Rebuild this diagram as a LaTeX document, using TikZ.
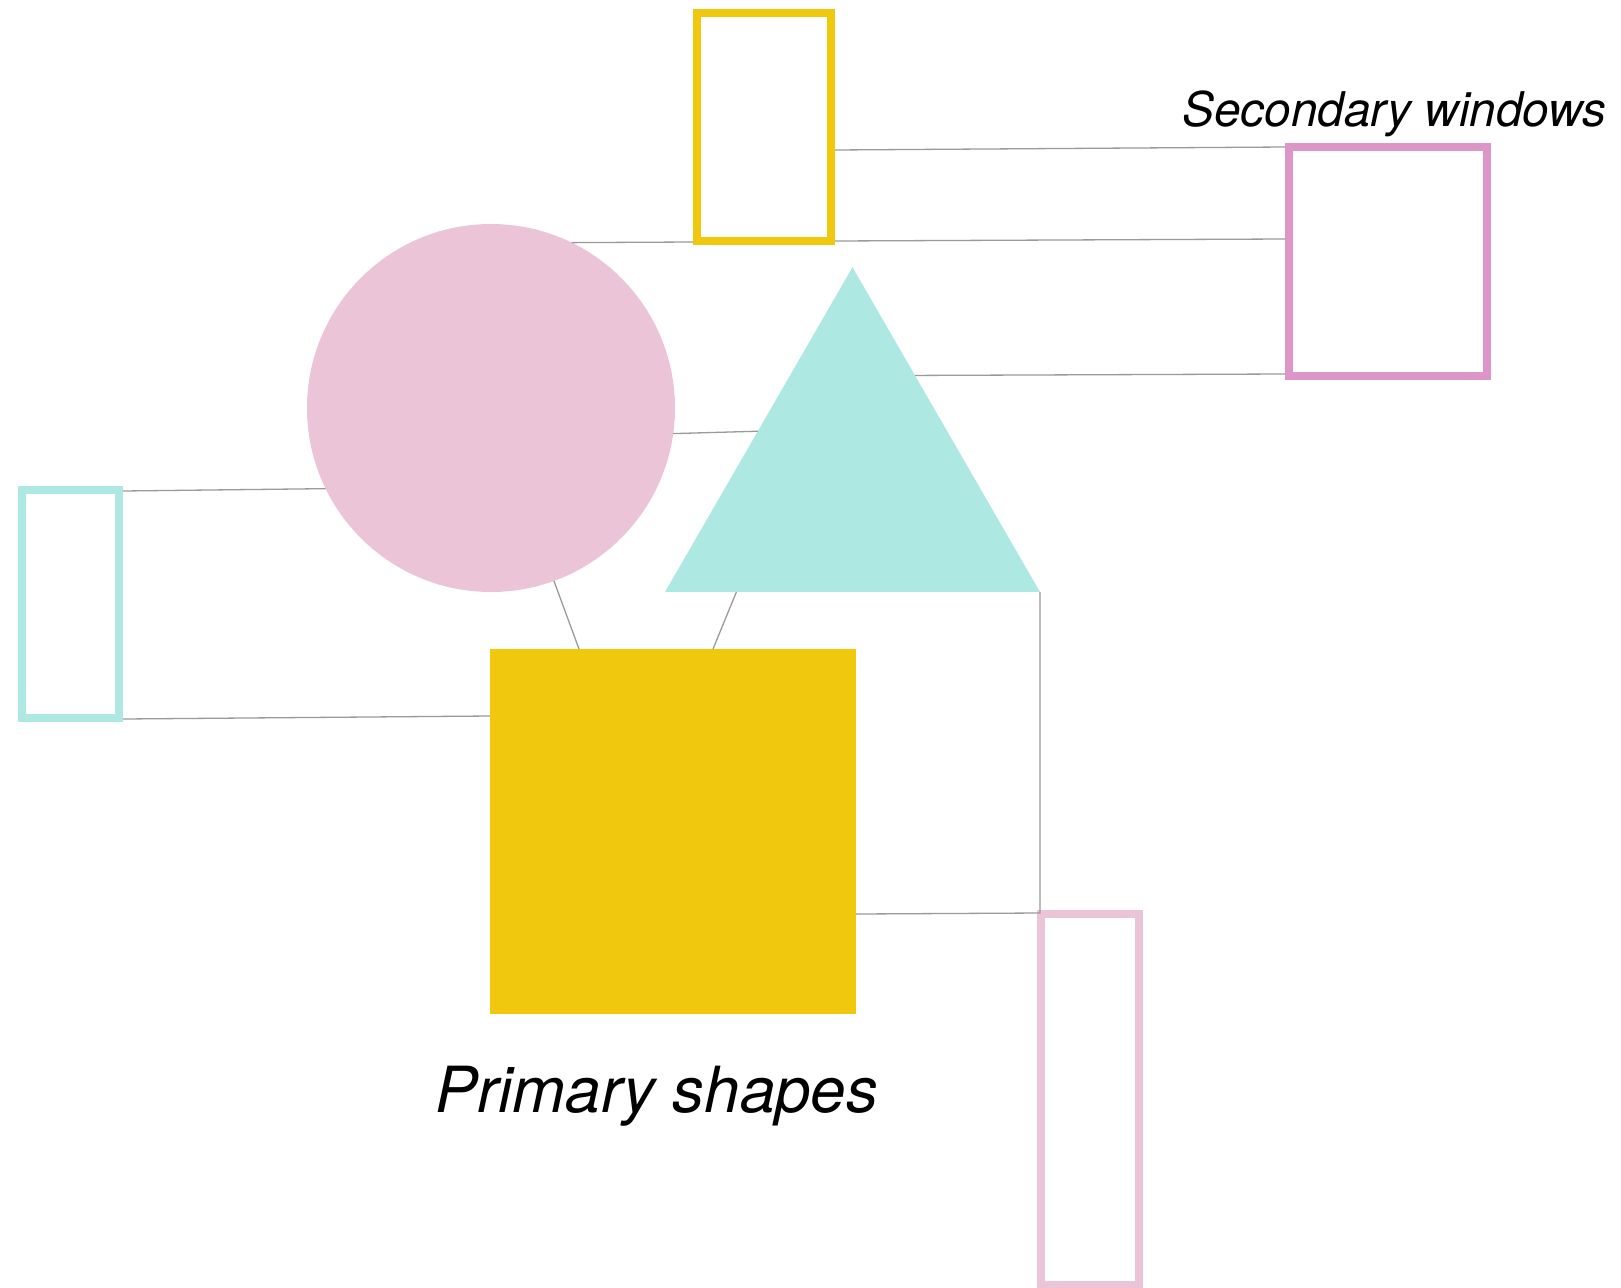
\documentclass[tikz,border=0pt]{standalone}
\usepackage{fontspec}
\setmainfont{TeX Gyre Heros}
\usetikzlibrary{calc,shapes.geometric}
\definecolor{yel}{HTML}{F0C80E}
\definecolor{pinklt}{HTML}{EBC4D8}
\definecolor{pinkdk}{HTML}{DE95C7}
\definecolor{cyanlt}{HTML}{AEE8E3}
\definecolor{linegray}{HTML}{9A9A9A}
\tikzset{
  winbox/.style={draw=#1, line width=8pt, fill=white, inner sep=0pt, rectangle},
  solidshape/.style={fill=#1, draw=none, inner sep=0pt, outer sep=0pt},
  conn/.style={draw=linegray, line width=1.3pt},
  lbl/.style={inner sep=0pt, font=\itshape}
}
\begin{document}
\begin{tikzpicture}[x=1pt,y=-1pt]
\useasboundingbox (0,0) rectangle (1621,1287);
% primary shapes
\node[solidshape=pinklt, circle, minimum size=368pt] (circ) at (491,408) {};
\node[solidshape=cyanlt, regular polygon, regular polygon sides=3, minimum size=433pt] (tri) at (852.5,483.7) {};
\node[solidshape=yel, rectangle, minimum width=366pt, minimum height=365pt] (sq) at (673,831.5) {};
% secondary windows
\node[winbox=yel, minimum width=134pt, minimum height=228pt] (ywin) at (764,127) {};
\node[winbox=pinkdk, minimum width=198pt, minimum height=229pt] (pwin) at (1388,261.5) {};
\node[winbox=cyanlt, minimum width=97pt, minimum height=228pt] (cwin) at (70.5,604) {};
\node[winbox=pinklt, minimum width=98pt, minimum height=371pt] (bwin) at (1090,1099.5) {};
% labels
\node[lbl, anchor=base west, font=\itshape\fontsize{47.8}{50}\selectfont] (seclbl) at (1182,127) {Secondary windows};
\node[lbl, anchor=base west, font=\itshape\fontsize{63.6}{66}\selectfont] (primlbl) at (435,1112) {Primary shapes};
% connectors
\draw[conn] (circ.64) -- ($(ywin.south west)+(0,-3)$);
\draw[conn] ($(ywin.north east)+(0,141)$) -- ($(pwin.north west)+(0,4)$);
\draw[conn] ($(ywin.south east)+(0,-4)$) -- ($(pwin.north west)+(0,96)$);
\draw[conn] (tri.60) -- ($(pwin.south west)+(0,-6)$);
\draw[conn] (circ.-8) -- (tri.151);
\draw[conn] ($(cwin.north east)+(0,5)$) -- (circ.206);
\draw[conn] ($(cwin.south east)+(0,-3)$) -- ($(sq.north west)+(0,67)$);
\draw[conn] (circ.-70) -- ($(sq.north west)+(89,0)$);
\draw[conn] (tri.223) -- ($(sq.north west)+(223,0)$);
\coordinate (knee) at ($(bwin.north west)+(3,3)$);
\draw[conn] ($(sq.south east)+(0,-100)$) -- (knee) -- (tri.corner 3);
\end{tikzpicture}
\end{document}
